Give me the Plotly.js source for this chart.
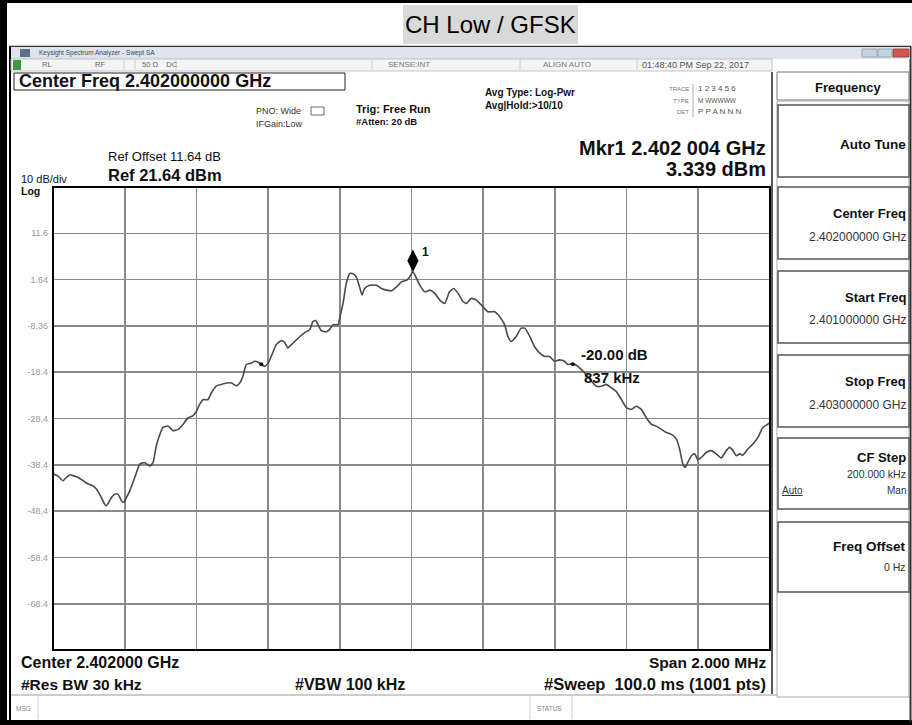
<!DOCTYPE html>
<html>
<head>
<meta charset="utf-8">
<script src="https://cdn.plot.ly/plotly-3.0.1.min.js"></script>
<style>
html,body{margin:0;padding:0;background:#fff;}
#chart{width:912px;height:725px;}
</style>
</head>
<body>
<div id="chart"></div>
<script>
// ---- data (frequency offset from 2.402 GHz in kHz, level in dBm) ----
const freqOffsetKHz = [
  -1000,-986,-972,-963,-953,-944,-930,-916,-902,-888,-879,-870,-861,-853,-847,-837,-828,-819,-809,-803,
  -795,-786,-777,-767,-758,-744,-730,-721,-712,-702,-693,-679,-665,-651,-637,-623,-610,-600,-591,-582,
  -568,-558,-544,-530,-516,-502,-488,-479,-470,-461,-447,-437,-428,-419,-410,-400,-391,-377,-363,-354,
  -345,-331,-312,-298,-284,-275,-267,-261,-251,-237,-228,-219,-205,-200,
  -191,-182,-172,-163,-154,-145,-138,-131,-117,-98,-84,-70,-56,-42,-28,-14,-5,4,12,23,37,51,65,79,93,
  106,118,130,144,153,167,181,195,213,
  232,246,260,269,278,292,306,316,330,343,357,371,385,399,413,427,436,450,464,474,488,502,516,530,543,
  557,571,585,599,613,627,641,655,669,683,697,711,725,739,748,757,764,771,781,790,799,808,822,836,850,
  864,878,887,897,906,915,924,938,952,966,980,994,1000
];
const levelDbm = [
  -40.3,-40.8,-41.8,-41.1,-40.5,-40.7,-41.1,-41.8,-42.5,-42.9,-43.6,-44.7,-46.1,-47.2,-46.8,-45.4,-44.7,-44.7,-46.1,-46.5,
  -45.4,-44.0,-42.2,-40.0,-38.2,-37.9,-38.6,-37.9,-34.3,-31.8,-30.3,-30.0,-31.0,-30.7,-29.6,-28.2,-27.8,-26.8,-25.3,-24.3,
  -24.3,-22.8,-21.3,-21.0,-20.7,-20.7,-21.3,-20.7,-19.2,-16.7,-16.4,-16.0,-16.2,-16.7,-17.1,-16.4,-14.9,-12.4,-11.5,-11.9,
  -13.1,-12.1,-10.7,-9.8,-9.2,-7.4,-7.2,-8.1,-9.4,-9.6,-9.1,-8.1,-8.1,-6.6,
  -3.5,0.8,2.95,2.9,2.2,0.07,-1.7,-0.27,0.44,0.44,-0.27,-0.63,-0.78,0.07,1.15,1.51,2.22,3.339,2.22,0.44,-1.0,-0.63,-1.34,-2.78,-3.49,
  -1.0,-0.27,-1.34,-3.15,-3.49,-2.42,-2.78,-3.85,-5.3,
  -5.29,-6.36,-8.15,-10.66,-11.73,-10.66,-8.85,-8.85,-10.66,-12.8,-14.2,-14.95,-14.95,-16.0,-15.7,-16.0,-16.7,-16.5,-17.1,-17.8,-18.9,-20.3,-21.4,-21.4,-21.0,
  -21.7,-22.5,-24.2,-26.0,-26.4,-25.7,-26.4,-28.2,-29.6,-30.0,-30.7,-31.4,-31.8,-32.8,-35.0,-38.2,-38.9,-37.8,-36.4,-36.0,-37.3,-36.8,-35.7,-35.3,-36.0,
  -36.9,-35.3,-34.6,-35.3,-36.4,-36.0,-36.3,-34.97,-33.9,-32.5,-30.3,-29.6,-29.2
];
const markerFreqKHz = [4];
const markerLevelDbm = [3.339];
const ndbFreqKHz = [-419, 450];
const ndbLevelDbm = [-16.66, -16.66];
const yTickVals = [11.64, 1.64, -8.36, -18.36, -28.36, -38.36, -48.36, -58.36, -68.36];
const yTickText = ["11.6", "1.64", "-8.36", "-18.4", "-28.4", "-38.4", "-48.4", "-58.4", "-68.4"];
const yRange = [-78.36, 21.64];
const xRange = [-1000, 1000];

// ---- helpers for page chrome (pixel coordinates) ----
const W = 912, H = 725;
const FONT = '"Liberation Sans", Arial, sans-serif';
const PX0 = 53, PX1 = 770, PY0 = 187, PY1 = 650;
function X(p){ return p / W; }
function Y(p){ return 1 - p / H; }
const shapes = [];
const ann = [];
function rect(x0, y0, x1, y1, lc, lw, fc, layer){
  shapes.push({type:'rect', xref:'paper', yref:'paper', x0:X(x0), x1:X(x1), y0:Y(y1), y1:Y(y0),
    line:{color:lc || 'rgba(0,0,0,0)', width:lw || 0}, fillcolor:fc || 'rgba(0,0,0,0)', layer:layer || 'above'});
}
function seg(x0, y0, x1, y1, c, w, layer){
  shapes.push({type:'line', xref:'paper', yref:'paper', x0:X(x0), x1:X(x1), y0:Y(y0), y1:Y(y1),
    line:{color:c, width:w}, layer:layer || 'above'});
}
function txt(x, y, text, size, anchor, color, bold, family){
  ann.push({xref:'paper', yref:'paper', x:X(x), y:Y(y), text: bold ? '<b>' + text + '</b>' : text,
    showarrow:false, xanchor:anchor || 'left', yanchor:'middle',
    font:{family:family || FONT, size:size, color:color || '#000'}});
}

// outer frame
seg(3.5, 0, 3.5, 725, '#000', 7);
seg(10, 46, 10, 722, '#000', 2);
seg(0, 1.5, 912, 1.5, '#000', 3);
seg(0, 722.5, 912, 722.5, '#000', 5);
seg(910.5, 46, 910.5, 722, '#333', 2);
seg(9, 46.5, 911, 46.5, '#333', 1.5);

// title
rect(403, 5, 578, 44, null, 0, '#d9d9d9');
txt(490.5, 25, 'CH Low / GFSK', 24, 'center', '#000', false);

// window title bar
rect(11, 47, 910, 59, null, 0, '#dde4ec');
rect(20, 49, 30, 57, null, 0, '#5b6f8a');
txt(37, 53, 'Keysight Spectrum Analyzer - Swept SA', 6.5, 'left', '#3a4a60');
rect(862, 49, 877, 57, '#8a9ab0', 0.8, '#c6d2e0');
rect(878, 49, 892, 57, '#8a9ab0', 0.8, '#c6d2e0');
rect(893, 49, 909, 57, '#9a3a30', 0.8, '#d0574c');

// status row
rect(11, 59, 772, 71, '#b8b8b8', 0.8, '#f4f4f4');
rect(13, 60, 21, 70, null, 0, '#3f9a3f');
txt(40, 65, 'RL', 7.5, 'left', '#666');
txt(93, 65, 'RF', 7.5, 'left', '#666');
txt(140, 65, '50 Ω    DC', 7.5, 'left', '#666');
txt(386, 65, 'SENSE:INT', 8, 'left', '#777');
txt(541, 65, 'ALIGN AUTO', 8, 'left', '#777');
txt(640, 65, '01:48:40 PM Sep 22, 2017', 9, 'left', '#555');
[124, 135, 176, 372, 520, 637].forEach(function(x){ seg(x, 60, x, 70, '#c4c4c4', 0.8); });

// top info texts
rect(14, 73, 345, 90, '#222', 1, '#fff');
txt(17, 81.5, 'Center Freq 2.402000000 GHz', 18, 'left', '#111', true);
txt(254, 111, 'PNO: Wide', 9, 'left', '#333');
rect(311, 107, 324, 115, '#444', 0.8, '#fff');
txt(254, 124, 'IFGain:Low', 9, 'left', '#333');
txt(354, 109, 'Trig: Free Run', 11, 'left', '#111', true);
txt(354, 122, '#Atten: 20 dB', 9.5, 'left', '#111', true);
txt(483, 92, 'Avg Type: Log-Pwr', 10, 'left', '#111', true);
txt(483, 105, 'Avg|Hold:>10/10', 10, 'left', '#111', true);
txt(691, 89, 'TRACE', 6, 'right', '#777');
txt(691, 101, 'TYPE', 6, 'right', '#777');
txt(691, 112, 'DET', 6, 'right', '#777');
seg(693, 84, 693, 117, '#999', 0.8);
txt(696, 89, '1 2 3 4 5 6', 8, 'left', '#555');
txt(696, 101, 'M WWWWW', 6.5, 'left', '#555');
txt(696, 112, 'P P A N N N', 8, 'left', '#555');
txt(768, 148, 'Mkr1 2.402 004 GHz', 20, 'right', '#111', true);
txt(768, 169, '3.339 dBm', 20, 'right', '#111', true);
txt(106, 157, 'Ref Offset 11.64 dB', 13, 'left', '#111');
txt(106, 175, 'Ref 21.64 dBm', 16.5, 'left', '#111', true);
txt(19, 179, '10 dB/div', 11, 'left', '#111');
txt(19, 191, 'Log', 10.5, 'left', '#111', true);

// plot border
rect(PX0, PY0, PX1, PY1, '#000', 2);
seg(772, 72, 772, 694, '#222', 1.5);

// bottom texts
txt(19, 662, 'Center 2.402000 GHz', 16, 'left', '#111', true);
txt(768, 662, 'Span 2.000 MHz', 15.5, 'right', '#111', true);
txt(19, 684, '#Res BW 30 kHz', 15.5, 'left', '#111', true);
txt(350, 684, '#VBW 100 kHz', 16, 'center', '#111', true);
txt(768, 684, '#Sweep  100.0 ms (1001 pts)', 16.5, 'right', '#111', true);

// msg bar
seg(11, 695, 910, 695, '#999', 1.2);
txt(14, 708, 'MSG', 6.5, 'left', '#888');
seg(38, 696, 38, 719, '#c4c4c4', 0.8);
txt(535, 708, 'STATUS', 6.5, 'left', '#888');
seg(530, 696, 530, 719, '#c4c4c4', 0.8);
seg(572, 696, 572, 719, '#c4c4c4', 0.8);

// right softkey panel
rect(777, 72, 909, 100, '#777', 1, '#fff');
txt(848, 87, 'Frequency', 13, 'center', '#111', true);
rect(777, 101, 909, 697, '#aaa', 1, '#fff');
[[105, 177], [187, 259], [271, 343], [355, 427], [438, 509], [522, 592]].forEach(function(b){
  rect(778, b[0], 909, b[1], '#555', 1.5, '#fff');
});
txt(908, 145, 'Auto Tune', 13.5, 'right', '#111', true);
txt(908, 213, 'Center Freq', 13, 'right', '#111', true);
txt(908, 237, '2.402000000 GHz', 12, 'right', '#333');
txt(908, 297, 'Start Freq', 13, 'right', '#111', true);
txt(908, 320, '2.401000000 GHz', 12, 'right', '#333');
txt(908, 381, 'Stop Freq', 13, 'right', '#111', true);
txt(908, 405, '2.403000000 GHz', 12, 'right', '#333');
txt(908, 457, 'CF Step', 13, 'right', '#111', true);
txt(908, 474, '200.000 kHz', 10.5, 'right', '#333');
txt(780, 490, '<u>Auto</u>', 10, 'left', '#333');
txt(908, 490, 'Man', 10, 'right', '#333');
txt(908, 546, 'Freq Offset', 13.5, 'right', '#111', true);
txt(908, 567, '0 Hz', 10.5, 'right', '#333');

// n-dB annotation text
txt(579, 354, '-20.00 dB', 15, 'left', '#111', true);
txt(582, 377, '837 kHz', 15, 'left', '#111', true);

// marker diamond placed just above the peak (offset in px converted through the y scale)
const dbPerPx = (yRange[1] - yRange[0]) / (PY1 - PY0);
const diamondY = markerLevelDbm.map(function(v){ return v + 11 * dbPerPx; });
ann.push({x:markerFreqKHz[0], y:diamondY[0], xref:'x', yref:'y', text:'<b>1</b>', showarrow:false,
  xshift:13, yshift:9, font:{family:FONT, size:12, color:'#111'}});

const traces = [
  {x:freqOffsetKHz, y:levelDbm, type:'scatter', mode:'lines',
   line:{color:'#4a4a4a', width:1.6, shape:'spline', smoothing:0.5}, hoverinfo:'skip'},
  {x:ndbFreqKHz, y:ndbLevelDbm, type:'scatter', mode:'markers',
   marker:{color:'#111', size:4, symbol:'circle'}, hoverinfo:'skip'},
  {x:markerFreqKHz, y:diamondY, type:'scatter', mode:'markers',
   marker:{color:'#000', size:16, symbol:'diamond-tall', line:{width:0}}, hoverinfo:'skip'}
];

const layout = {
  width:W, height:H,
  margin:{l:0, r:0, t:0, b:0, pad:0},
  paper_bgcolor:'#fff', plot_bgcolor:'#fff',
  showlegend:false,
  xaxis:{domain:[X(PX0), X(PX1)], range:xRange, tick0:-1000, dtick:200, showgrid:true,
    gridcolor:'#8a8a8a', gridwidth:1.6, zeroline:false, showticklabels:false, ticks:'', showline:false, fixedrange:true},
  yaxis:{domain:[Y(PY1), Y(PY0)], range:yRange, tickvals:yTickVals, ticktext:yTickText, showgrid:true,
    gridcolor:'#8a8a8a', gridwidth:1.6, zeroline:false, ticks:'', showline:false, fixedrange:true,
    ticklabelstandoff:4, tickfont:{family:FONT, size:9, color:'#999'}},
  shapes:shapes,
  annotations:ann
};

Plotly.newPlot('chart', traces, layout, {displayModeBar:false, staticPlot:true});
</script>
</body>
</html>
